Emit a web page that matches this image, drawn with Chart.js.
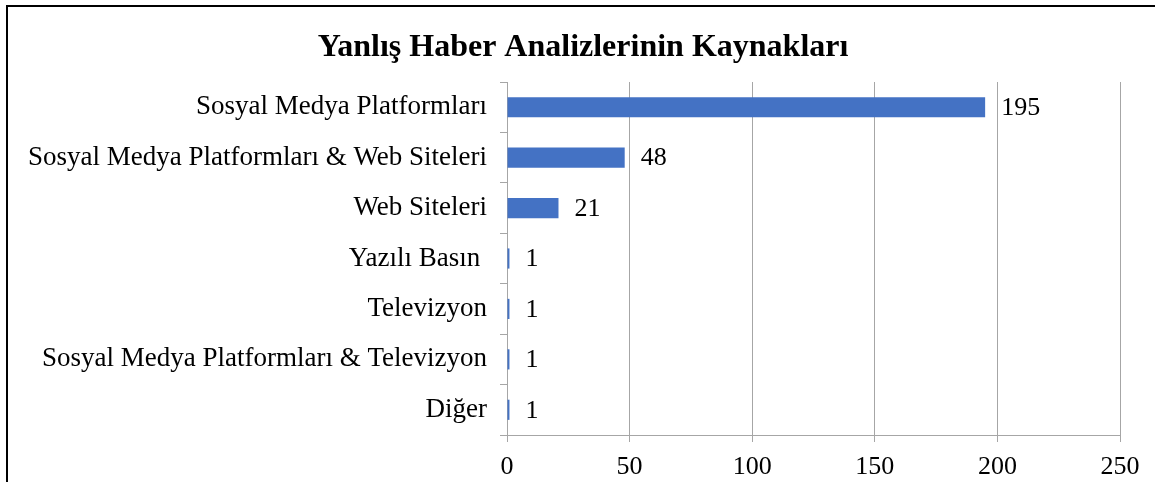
<!DOCTYPE html>
<html>
<head>
<meta charset="utf-8">
<script src="https://cdn.jsdelivr.net/npm/chart.js@4"></script>
<style>
html,body{margin:0;padding:0;background:#fff;}
canvas{display:block;}
</style>
</head>
<body>
<canvas id="c" width="1155" height="482"></canvas>
<script>
const categories = [
  "Sosyal Medya Platformları",
  "Sosyal Medya Platformları & Web Siteleri",
  "Web Siteleri",
  "Yazılı Basın ",
  "Televizyon",
  "Sosyal Medya Platformları & Televizyon",
  "Diğer"
];
const values = [195, 48, 21, 1, 1, 1, 1];
const titleText = "Yanlış Haber Analizlerinin Kaynakları";
const xMin = 0, xMax = 250, xStep = 50;

const FONT = "'Liberation Serif', 'Times New Roman', serif";
const GRID = '#A6A6A6';

const frame = {
  id: 'frame',
  beforeDraw(chart) {
    const ctx = chart.ctx;
    ctx.save();
    ctx.fillStyle = '#fff';
    ctx.fillRect(0, 0, chart.width, chart.height);
    ctx.fillStyle = '#000';
    ctx.fillRect(6, 5, chart.width - 6, 2);
    ctx.fillRect(6, 5, 2, chart.height - 5);
    ctx.font = "bold 32px " + FONT;
    ctx.textAlign = 'center';
    ctx.textBaseline = 'middle';
    ctx.fillText(titleText, 583, 48);
    ctx.restore();
  }
};

const valueLabels = {
  id: 'valueLabels',
  afterDatasetsDraw(chart) {
    const ctx = chart.ctx;
    const meta = chart.getDatasetMeta(0);
    ctx.save();
    ctx.font = "26px " + FONT;
    ctx.fillStyle = '#000';
    ctx.textAlign = 'left';
    ctx.textBaseline = 'middle';
    meta.data.forEach((bar, i) => {
      ctx.fillText(String(chart.data.datasets[0].data[i]), bar.x + 16, bar.y + 1);
    });
    ctx.restore();
  }
};

new Chart(document.getElementById('c'), {
  type: 'bar',
  data: {
    labels: categories,
    datasets: [{
      data: values,
      backgroundColor: '#4472C4',
      borderWidth: 0,
      categoryPercentage: 1.0,
      barPercentage: 0.4
    }]
  },
  options: {
    indexAxis: 'y',
    responsive: false,
    animation: false,
    devicePixelRatio: 1,
    layout: { padding: { left: 0, right: 35, top: 82, bottom: 0 } },
    plugins: {
      legend: { display: false },
      tooltip: { enabled: false },
      title: { display: false }
    },
    scales: {
      x: {
        min: xMin, max: xMax,
        ticks: { stepSize: xStep, color: '#000', font: { family: FONT, size: 26 }, padding: 10 },
        grid: { color: GRID, lineWidth: 1, drawTicks: true, tickLength: 7, tickColor: GRID },
        border: { color: GRID, width: 1 },
        afterFit(scale) { scale.height = 47; }
      },
      y: {
        ticks: { color: '#000', font: { family: FONT, size: 27 }, padding: 13 },
        grid: { drawOnChartArea: false, drawTicks: true, tickLength: 7, color: GRID, offset: true },
        border: { color: GRID, width: 1 },
        afterFit(scale) { scale.width = 507; }
      }
    }
  },
  plugins: [frame, valueLabels]
});
</script>
</body>
</html>
